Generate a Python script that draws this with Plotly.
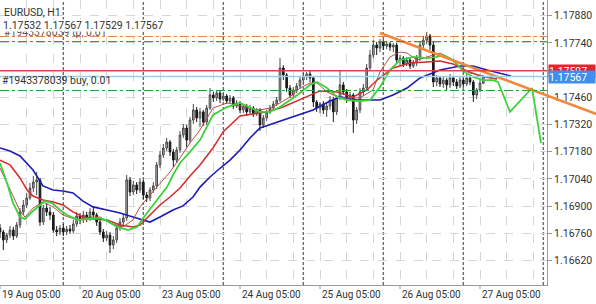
import plotly.graph_objects as go

# ---------------- data (prices in points, 1e-5) ----------------
BAR_IDX = list(range(146))
OPEN_PTS = [116787,116767,116726,116751,116777,116746,116803,116870,116906,116942,
 116993,117024,117035,116818,116890,116870,116854,116777,116767,116787,
 116767,116782,116772,116808,116849,116829,116854,116839,116870,116854,
 116818,116767,116736,116751,116700,116726,116787,116818,116839,117035,
 116973,117009,116983,117024,116957,116942,116983,117004,117112,117163,
 117199,117230,117179,117137,117189,117266,117302,117240,117343,117395,
 117354,117385,117333,117405,117472,117457,117482,117451,117467,117441,
 117457,117415,117431,117395,117415,117385,117405,117374,117395,117318,
 117354,117385,117405,117426,117446,117611,117575,117508,117472,117498,
 117518,117549,117570,117580,117560,117436,117405,117426,117395,117415,
 117446,117385,117457,117524,117488,117457,117472,117343,117395,117488,
 117508,117611,117678,117729,117714,117745,117724,117735,117719,117729,
 117652,117662,117632,117652,117621,117642,117662,117729,117755,117776,
 117729,117539,117560,117529,117549,117524,117560,117539,117518,117549,
 117529,117560,117539,117472,117498,117532]
HIGH_PTS = [116808,116777,116762,116798,116793,116818,116890,116932,116968,117019,
 117055,117076,117045,116906,116916,116896,116870,116798,116803,116808,
 116798,116803,116829,116870,116865,116875,116870,116890,116896,116865,
 116834,116782,116772,116767,116746,116803,116839,116860,117060,117050,
 117029,117024,117045,117035,116973,116998,117024,117127,117184,117220,
 117251,117240,117194,117204,117287,117323,117318,117359,117426,117410,
 117405,117395,117421,117508,117488,117498,117493,117482,117477,117472,
 117467,117446,117441,117426,117426,117421,117415,117405,117405,117369,
 117395,117421,117441,117462,117662,117626,117585,117524,117513,117534,
 117565,117585,117590,117596,117570,117446,117436,117441,117431,117467,
 117462,117472,117601,117539,117503,117488,117482,117410,117508,117529,
 117632,117704,117755,117745,117760,117755,117750,117745,117740,117740,
 117678,117673,117668,117662,117652,117678,117745,117776,117796,117786,
 117745,117575,117570,117565,117560,117580,117570,117554,117565,117560,
 117580,117570,117549,117508,117549,117567]
LOW_PTS = [116736,116674,116710,116736,116726,116736,116787,116854,116890,116932,
 116973,116957,116798,116803,116849,116829,116762,116746,116751,116746,
 116751,116757,116762,116793,116808,116813,116818,116824,116834,116798,
 116751,116715,116721,116659,116679,116710,116772,116798,116824,116952,
 116957,116962,116968,116937,116921,116926,116968,116988,117096,117148,
 117184,117158,117101,117122,117174,117251,117204,117225,117323,117333,
 117307,117313,117318,117395,117436,117441,117431,117441,117426,117431,
 117400,117405,117379,117379,117364,117369,117359,117364,117287,117302,
 117338,117374,117395,117415,117436,117549,117488,117457,117451,117482,
 117503,117534,117549,117539,117410,117385,117379,117374,117359,117395,
 117333,117369,117446,117472,117431,117441,117277,117323,117379,117467,
 117498,117601,117662,117678,117693,117704,117709,117699,117693,117637,
 117626,117616,117621,117606,117611,117621,117647,117709,117735,117704,
 117513,117518,117513,117508,117498,117508,117518,117503,117508,117513,
 117518,117524,117436,117451,117488,117529]
CLOSE_PTS = [116767,116726,116751,116777,116746,116803,116870,116906,116942,116993,
 117024,117035,116818,116890,116870,116854,116777,116767,116787,116767,
 116782,116772,116808,116849,116829,116854,116839,116870,116854,116818,
 116767,116736,116751,116700,116726,116787,116818,116839,117035,116973,
 117009,116983,117024,116957,116942,116983,117004,117112,117163,117199,
 117230,117179,117137,117189,117266,117302,117240,117343,117395,117354,
 117385,117333,117405,117472,117457,117482,117451,117467,117441,117457,
 117415,117431,117395,117415,117385,117405,117374,117395,117318,117354,
 117385,117405,117426,117446,117611,117575,117508,117472,117498,117518,
 117549,117570,117580,117560,117436,117405,117426,117395,117415,117446,
 117385,117457,117524,117488,117457,117472,117343,117395,117488,117508,
 117611,117678,117729,117714,117745,117724,117735,117719,117729,117652,
 117662,117632,117652,117621,117642,117662,117729,117755,117776,117729,
 117539,117560,117529,117549,117524,117560,117539,117518,117549,117529,
 117560,117539,117472,117498,117534,117567]

BLUE_IDX = [0,3,6,9.9,12.9,15.9,18.9,21.9,24.9,27.9,32.1,36,39.9,42.9,45,48,51.9,54.9,57.9,60,
            63,65.4,69,72,75,78,84,89.1,93.9,99,102,107.1,114,117.9,122.1,126,132,138,141.9,146.1,150,153.3]
BLUE_PTS = [117199,117184,117158,117086,117004,116983,116978,116968,116926,116896,116880,116865,116844,116829,116818,
            116844,116880,116901,116947,116998,117050,117086,117137,117189,117251,117302,117338,117369,117395,117441,
            117462,117446,117446,117472,117508,117560,117601,117621,117621,117601,117585,117570]
DRED_IDX = [0,3,6,8.1,9.9,12.9,15.9,18.9,21.9,24.9,27.9,32.1,36,39.9,42,45,48,51,54,57,60,63.9,66.9,72,80.1,
            84.9,92.1,96,101.1,105.9,110.1,113.1,117.9,123,128.1,132,135.9,140.1,144,149.1]
DRED_PTS = [117137,117112,117045,116983,116952,116932,116921,116906,116870,116844,116834,116829,116803,116793,116803,
            116854,116906,116947,116993,117055,117112,117199,117282,117364,117385,117410,117462,117493,117488,117462,
            117498,117549,117611,117637,117642,117647,117632,117596,117570,117554]
TRED_IDX = [0,3,6,7.5,9.9,12.9,15.9,18.9,23.1,27,30,33,36.9,39.9,42,45,48,51,54,57,60,63.9,68.1,71.1,74.1,
            78,81,84,87,90,93,95.1,98.1,101.1,104.1,108,111.9,114,117,120,122.1,125.1,128.1,132,135,138,141,144,147,149.1]
TRED_PTS = [117096,116983,116875,116844,116890,116921,116896,116854,116829,116844,116844,116813,116793,116829,116896,
            116957,117019,117076,117148,117225,117292,117405,117431,117421,117405,117395,117405,117431,117462,117508,
            117534,117534,117488,117462,117457,117457,117498,117590,117668,117693,117688,117652,117668,117688,117662,
            117611,117585,117575,117560,117554]
GREEN_IDX = [0,2.1,3.9,6,7.5,9.9,13.5,15.6,18,20.1,23.4,27,30,32.1,35.1,38.4,41.1,44.1,47.1,50.1,51.9,54,57,60,63.9,
             68.1,72,75,78,81,84,87,90,93,95.1,98.1,101.1,104.1,108,111,114,117,120,123.9,128.1,131.1,132.9,135.9,
             138.9,141.9,144.9,147.9,149.4,153,159.6,162.3]
GREEN_PTS = [117122,117019,116916,116844,116834,116875,116926,116916,116880,116854,116829,116834,116839,116824,116793,
             116777,116793,116865,116932,116998,117060,117122,117179,117240,117369,117410,117431,117410,117385,117385,
             117410,117446,117482,117524,117539,117508,117462,117446,117441,117446,117513,117601,117652,117668,117662,
             117668,117678,117652,117596,117565,117549,117549,117539,117385,117508,117225]

TREND_IDX = [114, 179]
TREND_PTS = [117791, 117374]

DAY_BREAKS = [19, 43, 67, 91, 115, 139, 163]
XTICK_IDX = [0, 24, 48, 72, 96, 120, 144]
XTICK_TEXT = ["19 Aug 05:00", "20 Aug 05:00", "23 Aug 05:00", "24 Aug 05:00",
              "25 Aug 05:00", "26 Aug 05:00", "27 Aug 05:00"]
YTICKS = [1.16620, 1.16760, 1.16900, 1.17040, 1.17180, 1.17320, 1.17460, 1.17600, 1.17740, 1.17880]

TP_LEVEL = 1.17773
GREEN_LEVEL = 1.17747
ASK_LEVEL = 1.17597
BID_LEVEL = 1.17567
BUY_LEVEL = 1.17495
HEADER = "EURUSD, H1"
OHLC_TEXT = "1.17532 1.17567 1.17529 1.17567"
TP_TEXT = "#1943378039 tp, 0.01"
BUY_TEXT = "#1943378039 buy, 0.01"

# ---------------- layout constants ----------------
FIG_W, FIG_H = 596, 304
PLOT_W, PLOT_H = 547, 285
PX_PER_BAR = 10 / 3
X_MAX = PLOT_W / PX_PER_BAR
X2_MAX = FIG_W / PX_PER_BAR
Y_RANGE = [1.16494, 1.17961]
FONT = "Roboto"
TXT = "#333333"
GRID = "#d6d6d6"


def pr(v):
    return [p / 1e5 for p in v]


fig = go.Figure()
fig.add_trace(go.Candlestick(
    x=BAR_IDX, open=pr(OPEN_PTS), high=pr(HIGH_PTS), low=pr(LOW_PTS), close=pr(CLOSE_PTS),
    increasing=dict(line=dict(color="#4a4a4a", width=1), fillcolor="#b0b0b0"),
    decreasing=dict(line=dict(color="#1a1a1a", width=1), fillcolor="#1a1a1a"),
    whiskerwidth=0, hoverinfo="skip", showlegend=False))

for xs, ys, col, w in [(BLUE_IDX, BLUE_PTS, "#1c1cb4", 1.6),
                       (DRED_IDX, DRED_PTS, "#d42a2a", 1.5),
                       (TRED_IDX, TRED_PTS, "#b4504a", 1.0),
                       (GREEN_IDX, GREEN_PTS, "#3cd23c", 1.8)]:
    fig.add_trace(go.Scatter(x=xs, y=pr(ys), mode="lines", line=dict(color=col, width=w),
                             hoverinfo="skip", showlegend=False))

fig.add_trace(go.Scatter(x=TREND_IDX, y=pr(TREND_PTS), mode="lines", xaxis="x2", yaxis="y2",
                         line=dict(color="#f0883a", width=2.6), hoverinfo="skip", showlegend=False))

shapes = []
for d in DAY_BREAKS:
    shapes.append(dict(type="line", xref="x", yref="paper", x0=d, x1=d, y0=0, y1=1,
                       line=dict(color="#6a6a6a", width=1.4, dash="3px,2px"), layer="below"))
for xi in XTICK_IDX:
    shapes.append(dict(type="line", xref="x", yref="paper", x0=xi, x1=xi, y0=0, y1=-4 / PLOT_H,
                       line=dict(color="#999999", width=1), layer="above"))
for lvl, col, dash, w in [(TP_LEVEL, "#d88a5a", "dashdot", 1),
                          (GREEN_LEVEL, "#2e9a2e", "dashdot", 1),
                          (ASK_LEVEL, "#d84848", "solid", 1.4),
                          (BID_LEVEL, "#9ccfe8", "solid", 1.4),
                          (BUY_LEVEL, "#2e9a2e", "dashdot", 1)]:
    shapes.append(dict(type="line", xref="paper", yref="y", x0=0, x1=PLOT_W / FIG_W, y0=lvl, y1=lvl,
                       line=dict(color=col, width=w, dash=dash), layer="above"))

ann = []
for xi, t in zip(XTICK_IDX, XTICK_TEXT):
    ann.append(dict(x=xi, y=0, xref="x", yref="paper", text=t, showarrow=False,
                    xanchor="left", yanchor="top", xshift=0, yshift=-2,
                    font=dict(family=FONT, size=10, color=TXT)))
ann.append(dict(x=2 / FIG_W, y=1 - 12 / PLOT_H, xref="paper", yref="paper", text=HEADER,
                showarrow=False, xanchor="left", yanchor="middle",
                font=dict(family=FONT, size=10.5, color=TXT)))
ann.append(dict(x=2 / FIG_W, y=1 - 32 / PLOT_H, xref="paper", yref="paper", text=TP_TEXT,
                showarrow=False, xanchor="left", yanchor="middle",
                font=dict(family=FONT, size=10.5, color="#555555")))
ann.append(dict(x=2 / FIG_W, y=1 - 25.5 / PLOT_H, xref="paper", yref="paper", text=OHLC_TEXT,
                showarrow=False, xanchor="left", yanchor="middle", bgcolor="white", borderpad=0,
                height=11, font=dict(family=FONT, size=10.5, color=TXT)))
ann.append(dict(x=0, y=BUY_LEVEL, xref="paper", yref="y", text=BUY_TEXT,
                showarrow=False, xanchor="left", yanchor="bottom", yshift=2,
                font=dict(family=FONT, size=10.5, color=TXT)))
for lvl, col in [(ASK_LEVEL, "#e8222a"), (BID_LEVEL, "#3f8ef0")]:
    ann.append(dict(x=548 / FIG_W, y=lvl, xref="paper", yref="y", text=f"{lvl:.5f}",
                    showarrow=False, xanchor="left", yanchor="middle", bgcolor=col,
                    width=46, height=12, align="left", borderpad=0,
                    font=dict(family=FONT, size=10.5, color="white")))

fig.update_layout(
    width=FIG_W, height=FIG_H, margin=dict(l=0, r=0, t=0, b=FIG_H - PLOT_H),
    paper_bgcolor="white", plot_bgcolor="rgba(0,0,0,0)", showlegend=False,
    font=dict(family=FONT, size=10, color=TXT),
    xaxis=dict(domain=[0, PLOT_W / FIG_W], range=[0, X_MAX], anchor="y",
               rangeslider=dict(visible=False), dtick=8, tick0=0, showticklabels=False,
               ticks="", showgrid=True, gridcolor=GRID, griddash="dash", gridwidth=1,
               showline=True, linecolor="#9a9a9a", linewidth=1, zeroline=False),
    yaxis=dict(domain=[0, 1], range=Y_RANGE, side="right", anchor="x",
               tickvals=YTICKS, tickformat=".5f", ticks="outside", ticklen=4,
               tickcolor="#999999", tickfont=dict(family=FONT, size=10.5, color=TXT),
               showgrid=True, gridcolor=GRID, griddash="dash", gridwidth=1,
               showline=True, linecolor="#9a9a9a", linewidth=1, zeroline=False),
    xaxis2=dict(domain=[0, 1], range=[0, X2_MAX], anchor="y2", visible=False),
    yaxis2=dict(domain=[0, 1], range=Y_RANGE, anchor="x2", visible=False),
    shapes=shapes, annotations=ann,
)

fig.write_html("out.html")
